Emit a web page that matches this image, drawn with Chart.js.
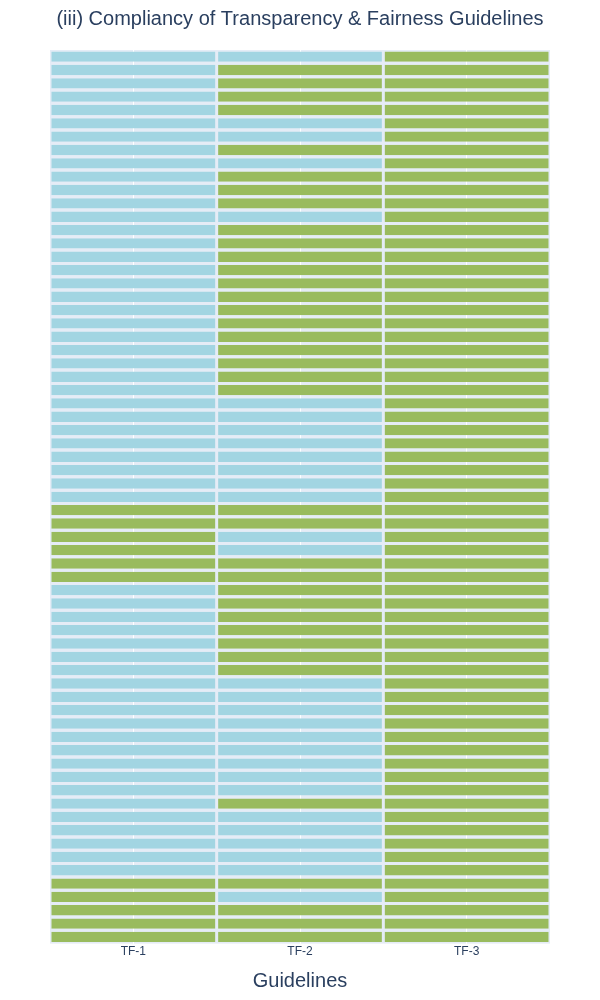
<!DOCTYPE html>
<html>
<head>
<meta charset="utf-8">
<script src="https://cdn.jsdelivr.net/npm/chart.js@4/dist/chart.umd.min.js"></script>
<style>
  body { margin: 0; background: #fff; }
  #wrap { width: 600px; height: 1000px; }
</style>
</head>
<body>
<div id="wrap"><canvas id="heat"></canvas></div>
<script>
// guideline columns
var columns = ["TF-1", "TF-2", "TF-3"];
// 1 = green (compliant), 0 = light blue, one entry per row top to bottom
var tf1 = [0,0,0,0,0,0,0,0,0,0,
           0,0,0,0,0,0,0,0,0,0,
           0,0,0,0,0,0,0,0,0,0,
           0,0,0,0,1,1,1,1,1,1,
           0,0,0,0,0,0,0,0,0,0,
           0,0,0,0,0,0,0,0,0,0,
           0,0,1,1,1,1,1];
var tf2 = [0,1,1,1,1,0,0,1,0,1,
           1,1,0,1,1,1,1,1,1,1,
           1,1,1,1,1,1,0,0,0,0,
           0,0,0,0,1,1,0,0,1,1,
           1,1,1,1,1,1,1,0,0,0,
           0,0,0,0,0,0,1,0,0,0,
           0,0,1,0,1,1,1];
var tf3 = [1,1,1,1,1,1,1,1,1,1,
           1,1,1,1,1,1,1,1,1,1,
           1,1,1,1,1,1,1,1,1,1,
           1,1,1,1,1,1,1,1,1,1,
           1,1,1,1,1,1,1,1,1,1,
           1,1,1,1,1,1,1,1,1,1,
           1,1,1,1,1,1,1];
var rowLabels = tf1.map(function (v, i) { return "Row " + (i + 1); });

var blue = "#A2D5E2";
var green = "#99BB5E";
var plotBg = "#E5ECF6";
var textColor = "#2A3F5F";
var fontFamily = "'Liberation Sans', Arial, sans-serif";

// fill the plot area like a plotly heatmap background
var plotBackground = {
    id: "plotBackground",
    beforeDraw: function (chart) {
        var a = chart.chartArea;
        var ctx = chart.ctx;
        ctx.save();
        ctx.fillStyle = plotBg;
        ctx.fillRect(a.left, a.top, a.right - a.left, a.bottom - a.top);
        ctx.restore();
    }
};

function makeColumn(name, values) {
    return {
        label: name,
        data: values.map(function () { return 1; }),   // each cell spans one column
        backgroundColor: values.map(function (v) { return v ? green : blue; }),
        borderColor: plotBg,
        borderWidth: { top: 0, bottom: 0, left: 1.5, right: 1.5 },
        borderSkipped: false,
        categoryPercentage: 1,
        barPercentage: 0.775
    };
}

new Chart(document.getElementById("heat"), {
    type: "bar",
    data: {
        labels: rowLabels,
        datasets: [makeColumn(columns[0], tf1), makeColumn(columns[1], tf2), makeColumn(columns[2], tf3)]
    },
    options: {
        indexAxis: "y",
        responsive: true,
        maintainAspectRatio: false,
        animation: false,
        layout: { padding: { left: 50, right: 50, top: 0, bottom: 0 } },
        scales: {
            x: {
                type: "linear",
                stacked: true,
                min: 0,
                max: 3,
                afterBuildTicks: function (scale) {
                    scale.ticks = [{ value: 0.5 }, { value: 1.5 }, { value: 2.5 }];
                },
                grid: { color: "#ffffff", lineWidth: 1, drawTicks: false },
                border: { display: false },
                ticks: {
                    padding: 1,
                    color: textColor,
                    font: { family: fontFamily, size: 12 },
                    callback: function (v, i) { return columns[i]; }
                },
                title: {
                    display: true,
                    text: "Guidelines",
                    color: textColor,
                    font: { family: fontFamily, size: 20 },
                    padding: { top: 9, bottom: 7 }
                }
            },
            y: {
                stacked: true,
                display: false
            }
        },
        plugins: {
            legend: { display: false },
            tooltip: { enabled: false },
            title: {
                display: true,
                text: "(iii) Compliancy of Transparency & Fairness Guidelines",
                color: textColor,
                font: { family: fontFamily, size: 20, weight: "normal" },
                padding: { top: 7, bottom: 19 }
            }
        }
    },
    plugins: [plotBackground]
});
</script>
</body>
</html>
